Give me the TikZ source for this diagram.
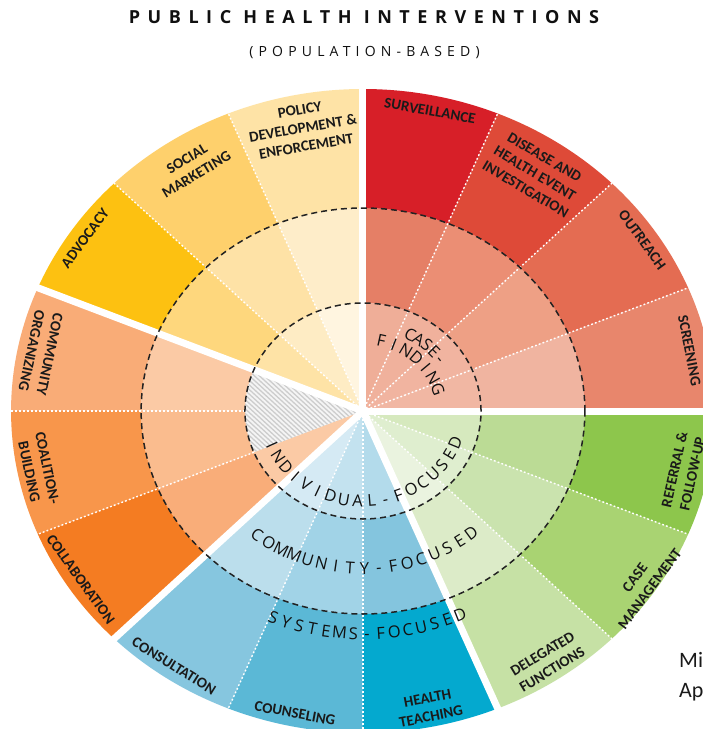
\documentclass[tikz,border=0pt]{standalone}
\usepackage{fontspec}
\setmainfont{Open Sans}
\newfontfamily\segfont{Carlito}
\newfontfamily\lvlfont{Open Sans}
\newfontfamily\ttlfont[LetterSpace=42]{Open Sans}
\newfontfamily\subfont[LetterSpace=37]{Open Sans}
\newfontfamily\sidefont{Carlito}
% red
\definecolor{rO1}{HTML}{E8866C}\definecolor{rM1}{HTML}{F0B4A0}\definecolor{rI1}{HTML}{F1B7A3}
\definecolor{rO2}{HTML}{E46C52}\definecolor{rM2}{HTML}{EEA085}\definecolor{rI2}{HTML}{F1B4A0}
\definecolor{rO3}{HTML}{DE4A38}\definecolor{rM3}{HTML}{EB8E74}\definecolor{rI3}{HTML}{F0B19C}
\definecolor{rO4}{HTML}{D71F28}\definecolor{rM4}{HTML}{E57F66}\definecolor{rI4}{HTML}{EFAE98}
% yellow
\definecolor{yO1}{HTML}{FEE3A6}\definecolor{yM1}{HTML}{FEEDC9}\definecolor{yI1}{HTML}{FFF5E0}
\definecolor{yO2}{HTML}{FED06C}\definecolor{yM2}{HTML}{FEE2A6}\definecolor{yI2}{HTML}{FEECC4}
\definecolor{yO3}{HTML}{FDC111}\definecolor{yM3}{HTML}{FED77D}\definecolor{yI3}{HTML}{FEE3A6}
% orange
\definecolor{oO1}{HTML}{F9AC77}\definecolor{oM1}{HTML}{FBCAA5}
\definecolor{oO2}{HTML}{F8964B}\definecolor{oM2}{HTML}{FABC8E}
\definecolor{oO3}{HTML}{F47C22}\definecolor{oM3}{HTML}{F9AD79}\definecolor{oI3}{HTML}{FBCAA5}
\definecolor{hatchbg}{HTML}{F5F5F5}\definecolor{hatchc}{HTML}{CDCDCD}
% blue
\definecolor{bO1}{HTML}{86C6DF}\definecolor{bM1}{HTML}{BBDEEC}\definecolor{bI1}{HTML}{D5EAF4}
\definecolor{bO2}{HTML}{5BB8D6}\definecolor{bM2}{HTML}{A1D3E7}\definecolor{bI2}{HTML}{C3E2EF}
\definecolor{bO3}{HTML}{04A9CF}\definecolor{bM3}{HTML}{84C5DE}\definecolor{bI3}{HTML}{B3DBEB}
% green
\definecolor{gO1}{HTML}{C6E1A5}\definecolor{gM1}{HTML}{DCEBC8}\definecolor{gI1}{HTML}{EAF3DF}
\definecolor{gO2}{HTML}{A9D372}\definecolor{gM2}{HTML}{CAE3AE}\definecolor{gI2}{HTML}{DFEECF}
\definecolor{gO3}{HTML}{8DC64C}\definecolor{gM3}{HTML}{BBDB95}\definecolor{gI3}{HTML}{D6E9BE}
\definecolor{labelc}{HTML}{1A1A1A}
\definecolor{lvlc}{HTML}{111111}
\definecolor{titlec}{HTML}{101010}
\definecolor{dashc}{HTML}{222222}
% characters set along an elliptic arc:
% #1 name prefix, #2 x radius, #3 y radius, #4 start angle, #5 angle step,
% #6 1 = tops toward centre (reading anticlockwise), 0 = tops outward, #7 characters
\newcommand\arcchars[7]{%
  \foreach \ch [count=\i from 0] in {#7} {%
    \pgfmathsetmacro\tt{#4+\i*(#5)}%
    \pgfmathsetmacro\rr{(#6==1) ? atan2(#3*cos(\tt), -#2*sin(\tt)) : atan2(-#3*cos(\tt), #2*sin(\tt))}%
    \node[lvlchar, rotate=\rr] (#1-\i) at ({#2*cos(\tt)},{#3*sin(\tt)}) {\ch};
  }}
\begin{document}
\begin{tikzpicture}[x=1pt,y=1pt,
  seglab/.style={font=\segfont\bfseries\fontsize{15}{18.5}\selectfont, align=center, text=labelc, inner sep=0pt},
  lvlchar/.style={font=\lvlfont\fontsize{16.5}{19}\selectfont, text=lvlc, inner sep=0pt, anchor=base},
  dotline/.style={white, line width=1.4pt, dash pattern=on 1.8pt off 2.2pt},
  gapline/.style={white, line width=7pt},
  ringline/.style={dashc, line width=1.5pt, dash pattern=on 6pt off 4pt},
  hatchline/.style={hatchc, line width=1.3pt}
]
\useasboundingbox (-363,-318) rectangle (340,411);
\clip (-363,-318) rectangle (340,411);
\fill[white] (-363,-318) rectangle (340,411);
\begin{scope}[xscale=1.093]
  \foreach \a/\co/\cm/\ci in {0/rO1/rM1/rI1, 22.5/rO2/rM2/rI2, 45/rO3/rM3/rI3, 67.5/rO4/rM4/rI4,
     90/yO1/yM1/yI1, 112.5/yO2/yM2/yI2, 135/yO3/yM3/yI3,
     157.5/oO1/oM1/hatchbg, 180/oO2/oM2/hatchbg, 202.5/oO3/oM3/oI3,
     225/bO1/bM1/bI1, 247.5/bO2/bM2/bI2, 270/bO3/bM3/bI3,
     292.5/gO1/gM1/gI1, 315/gO2/gM2/gI2, 337.5/gO3/gM3/gI3}
  {
    \fill[\ci] (0,0) -- (\a:108) arc[start angle=\a, delta angle=22.5, radius=108] -- cycle;
    \fill[\cm] (\a:108) -- (\a:203) arc[start angle=\a, delta angle=22.5, radius=203]
       -- ({\a+22.5}:108) arc[start angle={\a+22.5}, delta angle=-22.5, radius=108] -- cycle;
    \fill[\co] (\a:203) -- (\a:322) arc[start angle=\a, delta angle=22.5, radius=322]
       -- ({\a+22.5}:203) arc[start angle={\a+22.5}, delta angle=-22.5, radius=203] -- cycle;
  }
  % hatched sector
  \begin{scope}
    \clip (0,0) -- (157.5:108) arc[start angle=157.5, end angle=202.5, radius=108] -- cycle;
    \foreach \c in {-170,-165.4,...,60}
      \draw[hatchline] (-120,{\c+120}) -- (10,{\c-10});
  \end{scope}
  \foreach \a in {22.5,45,67.5,112.5,135,247.5,270,315,337.5}
    \draw[dotline] (0,0) -- (\a:322);
  \foreach \a in {180,202.5}
    \draw[dotline] (\a:108) -- (\a:322);
  \foreach \a in {0,90,157.5,225,292.5}
    \draw[gapline] (0,0) -- (\a:345);
  \draw[ringline] (0,0) circle[radius=108];
  \draw[ringline] (0,0) circle[radius=203];
\end{scope}

% title
\node[font=\ttlfont\bfseries\fontsize{18}{22}\selectfont, text=titlec, inner sep=0pt] (title) at (1,394) {PUBLIC HEALTH INTERVENTIONS};
\node[font=\subfont\fontsize{14}{17}\selectfont, text=titlec, inner sep=0pt] (subtitle) at (1.5,358) {(POPULATION-BASED)};

% segment labels
\node[seglab, rotate=-10.1] (surv) at (67,300) {SURVEILLANCE};
\node[seglab, rotate=-30.7] (dis) at (172,237.7) {DISEASE AND\\HEALTH EVENT\\INVESTIGATION};
\node[seglab, rotate=-53.9] (outr) at (279.3,171) {OUTREACH};
\node[seglab, rotate=-79] (scr) at (326.5,60.3) {SCREENING};
\node[seglab, rotate=9.9] (pol) at (-60,283) {POLICY\\DEVELOPMENT \&\\ENFORCEMENT};
\node[seglab, rotate=31.0] (soc) at (-171.3,244.3) {SOCIAL\\MARKETING};
\node[seglab, rotate=53.3] (adv) at (-278,172.7) {ADVOCACY};
\node[seglab, rotate=-102] (comorg) at (-322.3,58.3) {COMMUNITY\\ORGANIZING};
\node[seglab, rotate=-78.2] (coal) at (-324.7,-59) {COALITION-\\BUILDING};
\node[seglab, rotate=-54.3] (coll) at (-282.3,-168.3) {COLLABORATION};
\node[seglab, rotate=-31.8] (cons) at (-189,-255) {CONSULTATION};
\node[seglab, rotate=-10.5] (coun) at (-68,-302.3) {COUNSELING};
\node[seglab, rotate=11.0] (ht) at (66.3,-296.5) {HEALTH\\TEACHING};
\node[seglab, rotate=31.2] (del) at (184.3,-250.7) {DELEGATED\\FUNCTIONS};
\node[seglab, rotate=53.3] (cm) at (279.3,-172.3) {CASE\\MANAGEMENT};
\node[seglab, rotate=77.4] (ref) at (320.3,-60.7) {REFERRAL \&\\FOLLOW-UP};

% level labels, letter by letter along the rings
\arcchars{ind}{104.4}{96}{202.6}{8.04}{1}{I,N,D,I,V,I,D,U,A,L,-,F,O,C,U,S,E,D}
\arcchars{com}{177.6}{163}{232}{4.81}{1}{C,O,M,M,U,N,I,T,Y,-,F,O,C,U,S,E,D}
\arcchars{sys}{249.2}{228.5}{248.4}{3.22}{1}{S,Y,S,T,E,M,S,-,F,O,C,U,S,E,D}
\arcchars{cas}{90.2}{82}{60.5}{-6.125}{0}{C,A,S,E,-}
\arcchars{fin}{72.7}{66}{76.5}{-9.87}{0}{F,I,N,D,I,N,G}

% cut-off side text
\node[font=\sidefont\fontsize{22}{28}\selectfont, text=labelc, anchor=base west, inner sep=0pt] (mi) at (316,-256) {Mi};
\node[font=\sidefont\fontsize{22}{28}\selectfont, text=labelc, anchor=base west, inner sep=0pt] (ap) at (316,-286) {Ap};
\end{tikzpicture}
\end{document}
